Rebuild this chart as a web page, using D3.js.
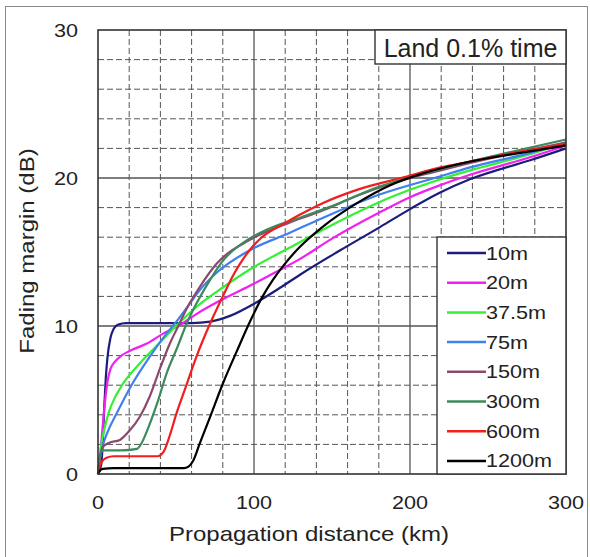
<!DOCTYPE html>
<html><head><meta charset="utf-8">
<script src="https://cdn.jsdelivr.net/npm/d3@7"></script>
<style>
html,body{margin:0;padding:0;background:#fff;}
svg text{font-family:"Liberation Sans",Arial,sans-serif;fill:#222;}
</style></head>
<body><svg id="chart" width="590" height="557"></svg>
<script>
const seriesNames = ["10m","20m","37.5m","75m","150m","300m","600m","1200m"];
const seriesColors = ["#1c1c7c","#f020f0","#33f033","#3f7fee","#8a4a6c","#3c8a5e","#f01e1e","#000000"];
const xTicks = [0,100,200,300];
const yTicks = [0,10,20,30];
const titleText = "Land 0.1% time";
const xLabel = "Propagation distance (km)";
const yLabel = "Fading margin (dB)";

const s10 = [[0,0],[2,0.6],[3,2],[4,4.5],[5,6.5],[6,7.8],[8,9.2],[10,9.8],[13,10.1],[18,10.2],[40,10.2],[60,10.2],[72,10.3],[85,10.7],[100,11.5],[117,12.6],[130,13.5],[155,15.1],[181,16.7],[200,17.9],[219,19.0],[238,19.9],[258,20.6],[277,21.2],[300,22.0]];
const s20 = [[0,0],[1.5,1.4],[3,3.2],[4.5,4.9],[6,6.2],[8,7.1],[11,7.6],[15,8.0],[20,8.3],[31,8.8],[42,9.5],[53,10.1],[63,10.8],[78,11.7],[97,12.7],[115,13.7],[129,14.5],[150,15.9],[181,17.7],[200,18.7],[219,19.5],[238,20.2],[277,21.4],[300,22.2]];
const s37 = [[0,0],[1,1],[2,1.9],[4,3.0],[7,4.2],[11,5.2],[16,6.1],[27,7.5],[38,8.7],[51,10.1],[61,11.1],[80,12.6],[97,13.8],[123,15.3],[155,17.1],[181,18.4],[200,19.2],[219,19.9],[238,20.5],[277,21.6],[300,22.4]];
const s75 = [[0,0],[1.5,1.2],[3,1.9],[6,2.8],[12,4.1],[22,6.1],[33,7.9],[44,9.5],[51,10.4],[58,11.4],[65,12.4],[76,13.6],[97,15.1],[123,16.3],[144,17.3],[181,18.9],[219,20.1],[238,20.7],[277,21.7],[300,22.4]];
const s150 = [[0,0],[1.5,1.2],[3,1.8],[7,2.1],[14,2.3],[20,2.9],[27,3.9],[33,5.2],[40,7.2],[46,8.8],[51,9.9],[57,11.2],[65,12.6],[76,14.2],[97,15.8],[123,17.0],[144,17.8],[166,18.8],[187,19.6],[219,20.5],[238,21.0],[277,21.9],[300,22.4]];
const s300 = [[0,0],[1,1.2],[3,1.6],[15,1.6],[25,1.7],[28,2.1],[31,2.8],[38,4.8],[44,6.8],[51,8.6],[57,10.2],[63,11.5],[70,12.8],[80,14.4],[97,15.9],[108,16.5],[129,17.3],[150,18.1],[180,19.4],[219,20.6],[258,21.6],[300,22.6]];
const s600 = [[0,0],[1,0.5],[3,0.9],[5.5,1.1],[10,1.2],[38,1.2],[42,1.5],[46,2.6],[50,4.0],[56,5.8],[63,7.9],[72,10.2],[80,12.0],[86,13.3],[91,14.2],[97,15.1],[104,15.9],[119,16.9],[129,17.5],[144,18.3],[166,19.2],[198,20.1],[219,20.7],[238,21.1],[277,21.9],[300,22.3]];
const s1200 = [[0,0],[1,0.2],[3,0.35],[10,0.4],[55,0.4],[58,0.5],[61,0.9],[65,2.0],[72,3.9],[80,6.1],[89,8.3],[97,10.2],[105,11.9],[112,13.1],[119,14.1],[129,15.3],[144,16.7],[166,18.3],[187,19.5],[208,20.3],[238,21.1],[277,21.8],[300,22.2]];
const seriesData = [s10,s20,s37,s75,s150,s300,s600,s1200];

const svg = d3.select("#chart");
const L = 98, R = 566, T = 30, B = 474;
const x = d3.scaleLinear().domain([0,300]).range([L,R]);
const y = d3.scaleLinear().domain([0,30]).range([B,T]);

// outer frame
svg.append("rect").attr("x",5.5).attr("y",6.5).attr("width",582).attr("height",570)
  .attr("fill","none").attr("stroke","#888").attr("stroke-width",1);

// grid
const g = svg.append("g");
const minorX = d3.range(20,300,20).filter(d=>d%100!==0);
const minorY = d3.range(2,30,2).filter(d=>d%10!==0);
g.selectAll(".mx").data(minorX).join("line")
  .attr("x1",d=>x(d)).attr("x2",d=>x(d)).attr("y1",T).attr("y2",B)
  .attr("stroke","#555").attr("stroke-width",1).attr("stroke-dasharray","6,3");
g.selectAll(".my").data(minorY).join("line")
  .attr("x1",L).attr("x2",R).attr("y1",d=>y(d)).attr("y2",d=>y(d))
  .attr("stroke","#555").attr("stroke-width",1).attr("stroke-dasharray","6,3");
g.selectAll(".Mx").data([100,200]).join("line")
  .attr("x1",d=>x(d)).attr("x2",d=>x(d)).attr("y1",T).attr("y2",B)
  .attr("stroke","#555").attr("stroke-width",1.3);
g.selectAll(".My").data([10,20]).join("line")
  .attr("x1",L).attr("x2",R).attr("y1",d=>y(d)).attr("y2",d=>y(d))
  .attr("stroke","#555").attr("stroke-width",1.3);

// lines
const line = d3.line().x(d=>x(d[0])).y(d=>y(d[1])).curve(d3.curveMonotoneX);
svg.append("g").selectAll("path").data(seriesData).join("path")
  .attr("d",line).attr("fill","none")
  .attr("stroke",(d,i)=>seriesColors[i]).attr("stroke-width",2.2);

// plot frame
svg.append("rect").attr("x",L).attr("y",T).attr("width",R-L).attr("height",B-T)
  .attr("fill","none").attr("stroke","#333").attr("stroke-width",1.6);

// title box
svg.append("rect").attr("x",375).attr("y",T).attr("width",R-375).attr("height",34)
  .attr("fill","#fff").attr("stroke","#333").attr("stroke-width",1.4);
svg.append("text").attr("x",(375+R)/2).attr("y",57).attr("text-anchor","middle")
  .attr("font-size",25).text(titleText);

// legend
const lg = svg.append("g");
lg.append("rect").attr("x",437).attr("y",237).attr("width",R-437).attr("height",B-237)
  .attr("fill","#fff").attr("stroke","#333").attr("stroke-width",1.4);
seriesNames.forEach((n,i)=>{
  const cy = 253 + i*29.7;
  lg.append("line").attr("x1",447).attr("x2",486).attr("y1",cy).attr("y2",cy)
    .attr("stroke",seriesColors[i]).attr("stroke-width",2.5);
  lg.append("text").attr("transform",`translate(486,${cy+6.5}) scale(1.2,1)`)
    .attr("font-size",18).text(n);
});

// tick labels
svg.append("g").selectAll("text").data(yTicks).join("text")
  .attr("transform",d=>`translate(78,${y(d)+6.5}) scale(1.2,1)`)
  .attr("text-anchor","end").attr("font-size",18).text(d=>d);
svg.append("g").selectAll("text").data(xTicks).join("text")
  .attr("transform",d=>`translate(${x(d)},${509}) scale(1.2,1)`)
  .attr("text-anchor","middle").attr("font-size",18).text(d=>d);

// axis titles
svg.append("text").attr("transform",`translate(309,541) scale(1.2,1)`)
  .attr("text-anchor","middle").attr("font-size",20).text(xLabel);
svg.append("text").attr("transform",`translate(34,251) rotate(-90) scale(1.2,1)`)
  .attr("text-anchor","middle").attr("font-size",20).text(yLabel);
</script></body></html>
